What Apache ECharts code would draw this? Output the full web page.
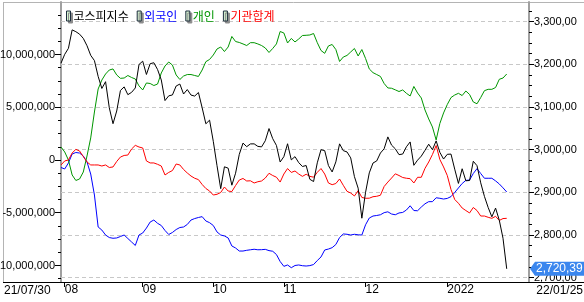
<!DOCTYPE html>
<html><head><meta charset="utf-8">
<script src="https://cdn.jsdelivr.net/npm/echarts@6/dist/echarts.min.js"></script>
<style>html,body{margin:0;padding:0;background:#fff}#c{width:584px;height:302px}</style>
</head><body><div id="c"></div>
<script>
const dates = ['21/07/30',
'21/08/02','21/08/03','21/08/04','21/08/05','21/08/06','21/08/09','21/08/10','21/08/11','21/08/12','21/08/13','21/08/17','21/08/18','21/08/19','21/08/20','21/08/23','21/08/24','21/08/25','21/08/26','21/08/27','21/08/30','21/08/31',
'21/09/01','21/09/02','21/09/03','21/09/06','21/09/07','21/09/08','21/09/09','21/09/10','21/09/13','21/09/14','21/09/15','21/09/16','21/09/17','21/09/23','21/09/24','21/09/27','21/09/28','21/09/29','21/09/30',
'21/10/01','21/10/05','21/10/06','21/10/07','21/10/08','21/10/12','21/10/13','21/10/14','21/10/15','21/10/18','21/10/19','21/10/20','21/10/21','21/10/22','21/10/25','21/10/26','21/10/27','21/10/28','21/10/29',
'21/11/01','21/11/02','21/11/03','21/11/04','21/11/05','21/11/08','21/11/09','21/11/10','21/11/11','21/11/12','21/11/15','21/11/16','21/11/17','21/11/18','21/11/19','21/11/22','21/11/23','21/11/24','21/11/25','21/11/26','21/11/29','21/11/30',
'21/12/01','21/12/02','21/12/03','21/12/06','21/12/07','21/12/08','21/12/09','21/12/10','21/12/13','21/12/14','21/12/15','21/12/16','21/12/17','21/12/20','21/12/21','21/12/22','21/12/23','21/12/24','21/12/27','21/12/28','21/12/29','21/12/30',
'22/01/03','22/01/04','22/01/05','22/01/06','22/01/07','22/01/10','22/01/11','22/01/12','22/01/13','22/01/14','22/01/17','22/01/18','22/01/19','22/01/20','22/01/21','22/01/24','22/01/25'];

const kospi = [3202.32,
3223.04,3237.14,3280.38,3276.13,3270.36,3260.42,3243.19,3220.70,3208.38,3171.29,3143.09,3158.93,3097.83,3060.51,3090.21,3138.30,3146.77,3128.53,3133.90,3144.19,3199.27,
3207.02,3175.85,3201.06,3203.33,3187.42,3162.99,3114.70,3125.76,3127.86,3148.83,3153.40,3130.09,3140.51,3127.58,3125.24,3133.64,3097.92,3060.27,3068.82,
3019.18,2962.17,2908.31,2959.46,2956.30,2916.38,2944.41,2988.64,3015.06,3006.68,3013.13,3013.25,3007.33,3006.16,3020.54,3049.08,3025.49,3009.55,2970.68,
2983.22,3013.49,2975.71,2983.29,2969.27,2960.20,2962.46,2930.17,2924.92,2968.80,2999.52,2997.33,2962.42,2947.38,2971.02,3013.25,2997.33,2994.29,2980.27,2936.44,2909.32,2839.01,
2899.72,2945.27,2968.33,2973.25,2991.72,3001.80,3029.57,3010.23,3001.66,2987.95,2989.39,3006.41,3017.73,2963.00,2975.03,2984.48,2998.17,3012.43,2999.55,3020.24,2993.29,2977.65,
2988.77,2989.24,2953.97,2920.53,2954.89,2926.72,2927.38,2972.48,2962.09,2921.92,2890.10,2864.24,2842.28,2862.68,2834.29,2792.00,2720.39];

const foreign = [-710000,-850000,-280000,570000,710000,660000,380000,-190000,-1330000,-3320000,
-6350000,-6640000,-7110000,-7350000,-7420000,-7390000,-7250000,-7110000,-7440000,-7770000,
-8100000,-7110000,-6920000,-6450000,-5880000,-5690000,-6000000,-6210000,-6680000,-7060000,
-6870000,-6590000,-6400000,-6350000,-6110000,-5690000,-5550000,-5450000,-5370000,-5780000,
-5940000,-6210000,-6820000,-7110000,-7200000,-7390000,-8150000,-8340000,-8630000,-8630000,
-8560000,-8510000,-8460000,-8510000,-8500000,-8470000,-8590000,-8650000,-8960000,-9620000,
-10080000,-9950000,-10210000,-10000000,-9950000,-10020000,-10050000,-10010000,-9910000,-9530000,
-9190000,-8530000,-8440000,-8310000,-8010000,-7350000,-7010000,-7040000,-7110000,-7040000,
-7090000,-7110000,-6140000,-5500000,-5310000,-5260000,-5190000,-4990000,-4910000,-5120000,
-5190000,-5020000,-4970000,-4740000,-4340000,-4790000,-4810000,-4460000,-4150000,-3950000,
-3950000,-3580000,-3630000,-3700000,-3640000,-3470000,-3080000,-2650000,-2230000,-1930000,
-1900000,-1280000,-820000,-1280000,-1730000,-1730000,-1730000,-1980000,-2270000,-2640000,-3030000];

const individual = [1230000,760000,0,-1420000,-1940000,-1800000,-1140000,380000,2090000,4550000,
6730000,7580000,8150000,8530000,8630000,8060000,7740000,7770000,8010000,7820000,
7680000,7020000,6640000,7300000,7250000,7060000,7200000,8250000,8910000,9290000,
9000000,8060000,7630000,7960000,8100000,8100000,8010000,7920000,8530000,9320000,
9530000,9950000,10520000,10710000,10280000,10710000,11710000,11230000,11140000,11000000,
10850000,11120000,11120000,11000000,10850000,10620000,10190000,10570000,11000000,12180000,
12040000,11090000,11520000,11190000,11470000,11800000,11820000,11850000,11990000,11120000,
10380000,10110000,10810000,10950000,10470000,9340000,9760000,9910000,10240000,10570000,
9860000,10470000,9620000,8630000,8280000,8100000,7920000,7250000,6830000,6800000,
6650000,6490000,6640000,6320000,6070000,6970000,6350000,5880000,4740000,3890000,
3130000,1900000,3460000,4460000,5260000,5920000,6160000,6320000,6110000,6540000,
6210000,5500000,5330000,5920000,6570000,6700000,6700000,6870000,7650000,7770000,8150000];

const institution = [-470000,-90000,0,660000,1010000,850000,330000,-190000,-470000,-470000,
-470000,-570000,-470000,-710000,-660000,-140000,280000,430000,470000,1040000,
1390000,1230000,1140000,-90000,-280000,-280000,-410000,-570000,-1420000,-1180000,
-1000000,-380000,-470000,-900000,-1230000,-1520000,-1730000,-1860000,-2320000,-2700000,
-2940000,-3320000,-3250000,-3080000,-2560000,-2940000,-2990000,-2420000,-1900000,-1750000,
-1990000,-1970000,-2180000,-2060000,-1990000,-1710000,-1260000,-1470000,-1630000,-2090000,
-1330000,-810000,-1180000,-1040000,-1330000,-1550000,-1350000,-1550000,-1630000,-1170000,
-810000,-1330000,-2180000,-2340000,-2230000,-1800000,-2400000,-2970000,-3130000,-3410000,
-2910000,-3550000,-3630000,-3620000,-3480000,-3440000,-3340000,-2510000,-2090000,-1710000,
-1310000,-1470000,-1660000,-1730000,-1770000,-2180000,-1640000,-1640000,-790000,-190000,
520000,1370000,50000,-660000,-1470000,-2800000,-3740000,-4100000,-4550000,-4790000,
-5020000,-4500000,-4790000,-5310000,-5310000,-5430000,-5530000,-5340000,-5730000,-5550000,-5530000];

const leftTicks = [-10000000,-5000000,0,5000000,10000000];
const rightTicks = [2700,2800,2900,3000,3100,3200,3300];
const seriesNames = ['코스피지수','외국인','개인','기관합계'];
const seriesColors = ['#000000','#0000ff','#009600','#ff0000'];

const FONT = "'Liberation Sans',Arial,sans-serif";
const LMIN = -11564000, LMAX = 14976000, RMIN = 2689.5, RMAX = 3345.7;
const EXTRA = 6;

function range(a, b, s){ const r=[]; for(let v=a; v<=b+1e-9; v+=s) r.push(Math.round(v*100)/100); return r; }
const leftMinor = range(-11250000, 13750000, 1250000);
const rightMinor = range(2700, 3325, 25);

function fmtLeft(v){ return Math.round(v).toLocaleString('en-US'); }
function fmtRight(v){
  const s = v.toFixed(2).split('.');
  return Number(s[0]).toLocaleString('en-US') + ',' + s[1];
}
function isMonthStart(idx){
  if (idx <= 0 || idx >= dates.length) return false;
  return dates[idx].slice(3,5) !== dates[idx-1].slice(3,5);
}
function monthLabel(val, idx){
  if (!val) return '';
  const m = val.slice(3,5);
  return m === '01' ? '20' + val.slice(0,2) : m;
}

const chart = echarts.init(document.getElementById('c'), null, {renderer:'canvas'});
const yFont = {fontFamily: FONT, fontSize: 11, color: '#000'};

chart.setOption({
  animation: false,
  backgroundColor: '#fff',
  grid: {left: 61, right: 55, top: 2, bottom: 20, containLabel: false, outerBoundsMode: 'none'},
  legend: {
    left: 61, top: 5, itemWidth: 4, itemHeight: 10, itemGap: 8, icon: 'rect',
    selectedMode: false,
    textStyle: {fontFamily: "'Noto Sans CJK KR', sans-serif", fontSize: 12, lineHeight: 12, padding: [0,0,0,-2]},
    data: seriesNames.map((n,i)=>({name: n,
      itemStyle: {color: '#d4f2d0', borderColor: '#1e2e3e', borderWidth: 1, shadowColor: '#8c8c8c', shadowOffsetX: 2, shadowOffsetY: 2, shadowBlur: 0},
      textStyle: {color: seriesColors[i]}}))
  },
  xAxis: {
    type: 'category', data: dates, boundaryGap: false, max: dates.length - 1 + EXTRA,
    axisLine: {show: false, onZero: false},
    axisTick: {show: true, interval: isMonthStart, length: 5, lineStyle: {color: '#000'}},
    axisLabel: {interval: isMonthStart, formatter: monthLabel, align: 'left', margin: 2,
      fontFamily: FONT, fontSize: 12, color: '#000'},
    splitLine: {show: false}
  },
  yAxis: [
    {type: 'value', position: 'left', min: LMIN, max: LMAX,
      axisLine: {show: true, lineStyle: {color: '#a0a0a0', width: 2}},
      axisTick: {show: true, customValues: leftMinor, length: 3, lineStyle: {color: '#000'}},
      axisLabel: Object.assign({customValues: leftTicks, formatter: fmtLeft, margin: 6}, yFont),
      splitLine: {show: false}},
    {type: 'value', position: 'right', min: RMIN, max: RMAX,
      axisLine: {show: true, lineStyle: {color: '#a0a0a0', width: 2}},
      axisTick: {show: true, customValues: rightMinor, length: 3, lineStyle: {color: '#000'}},
      axisLabel: Object.assign({customValues: rightTicks, formatter: fmtRight, margin: 5}, yFont),
      splitLine: {show: false}},
    {type: 'value', position: 'left', min: LMIN, max: LMAX,
      axisLine: {show: false},
      axisTick: {show: true, customValues: leftTicks, length: 6, lineStyle: {color: '#000'}},
      axisLabel: {show: false}, splitLine: {show: false}},
    {type: 'value', position: 'right', min: RMIN, max: RMAX,
      axisLine: {show: false},
      axisTick: {show: true, customValues: rightTicks, length: 5, lineStyle: {color: '#000'}},
      axisLabel: {show: false}, splitLine: {show: false}}
  ],
  series: [
    {name: '외국인', type: 'line', yAxisIndex: 0, data: foreign, symbol: 'none',
      lineStyle: {color: seriesColors[1], width: 1}, itemStyle: {color: seriesColors[1]}},
    {name: '개인', type: 'line', yAxisIndex: 0, data: individual, symbol: 'none',
      lineStyle: {color: seriesColors[2], width: 1}, itemStyle: {color: seriesColors[2]}},
    {name: '기관합계', type: 'line', yAxisIndex: 0, data: institution, symbol: 'none',
      lineStyle: {color: seriesColors[3], width: 1}, itemStyle: {color: seriesColors[3]}},
    {name: '코스피지수', type: 'line', yAxisIndex: 1, data: kospi, symbol: 'none',
      lineStyle: {color: seriesColors[0], width: 1}, itemStyle: {color: seriesColors[0]},
      markLine: {silent: true, symbol: ['none','none'], label: {show: false}, z: 1,
        lineStyle: {color: '#c8c8c8', type: [4,3], width: 1}, emphasis: {disabled: true},
        data: rightTicks.map(v => ({yAxis: v}))}}
  ]
});

// decorations: frame, start/end dates, last-price tag
const last = kospi[kospi.length - 1];
const py = chart.convertToPixel({yAxisIndex: 1}, last);
const axR = chart.convertToPixel({xAxisIndex: 0}, dates.length - 1 + EXTRA);
const axB = chart.convertToPixel({yAxisIndex: 0}, LMIN);
const W = 584;
chart.setOption({
  graphic: [
    {type: 'line', shape: {x1: 3, y1: 2.5, x2: W, y2: 2.5}, style: {stroke: '#b4b4b4', lineWidth: 1}, silent: true},
    {type: 'line', shape: {x1: 3.5, y1: 2, x2: 3.5, y2: axB}, style: {stroke: '#b4b4b4', lineWidth: 1}, silent: true},
    {type: 'line', shape: {x1: 3, y1: Math.round(axB) + 0.5, x2: W, y2: Math.round(axB) + 0.5}, style: {stroke: '#000', lineWidth: 1}, silent: true, z: 10},
    {type: 'text', left: 4, top: axB + 3, style: {text: dates[0], font: "12px " + FONT, fill: '#000'}},
    {type: 'text', right: 1, top: axB + 3, style: {text: dates[dates.length - 1], font: "12px " + FONT, fill: '#000'}},
    {type: 'polygon', shape: {points: [[axR + 1, py], [axR + 6, py - 7], [W, py - 7], [W, py + 7], [axR + 6, py + 7]]},
      style: {fill: '#3a86ee'}, z: 20},
    {type: 'text', x: axR + 7, y: py, style: {text: fmtRight(last), font: "12px " + FONT, fill: '#fff', textVerticalAlign: 'middle'}, z: 21}
  ]
});
</script></body></html>
